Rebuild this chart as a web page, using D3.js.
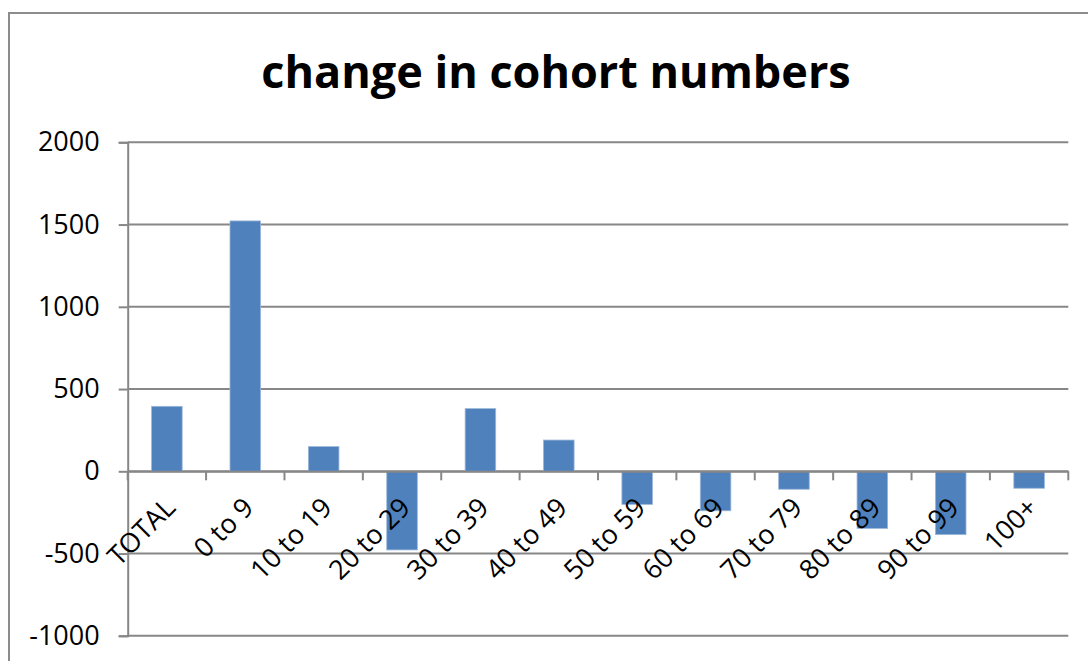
<!DOCTYPE html>
<html><head><meta charset="utf-8">
<script src="https://cdn.jsdelivr.net/npm/d3@7/dist/d3.min.js"></script>
<style>
html,body{margin:0;padding:0;background:#fff;}
svg{display:block;}
text{font-family:"Open Sans","Noto Sans",sans-serif;fill:#000;}
</style></head>
<body>
<svg id="chart" width="1088" height="661"></svg>
<script>
const categories = ["TOTAL","0 to 9","10 to 19","20 to 29","30 to 39","40 to 49","50 to 59","60 to 69","70 to 79","80 to 89","90 to 99","100+"];
const values = [395, 1522, 150, -478, 381, 190, -201, -240, -109, -347, -385, -103];
const yTicks = [-1000, -500, 0, 500, 1000, 1500, 2000];
const title = "change in cohort numbers";

const svg = d3.select("#chart");
const gridColor = "#878787";
const barColor = "#4F81BD";

// outer chart frame
svg.append("rect").attr("x", 9).attr("y", 13).attr("width", 1200).attr("height", 800)
  .attr("fill", "none").attr("stroke", "#8c8c8c").attr("stroke-width", 2);

const plot = {left: 127.7, right: 1068.3, top: 142.3, bottom: 635.8};

const y = d3.scaleLinear().domain([-1000, 2000]).range([plot.bottom, plot.top]);
const x = d3.scaleBand().domain(categories).range([plot.left, plot.right])
  .paddingInner(0.61).paddingOuter(0.305);

// gridlines
svg.append("g").selectAll("line").data(yTicks).join("line")
  .attr("x1", plot.left).attr("x2", plot.right)
  .attr("y1", d => y(d)).attr("y2", d => y(d))
  .attr("stroke", gridColor).attr("stroke-width", 2);

// bars
svg.append("g").selectAll("rect").data(values).join("rect")
  .attr("x", (d, i) => x(categories[i]))
  .attr("width", x.bandwidth())
  .attr("y", d => Math.min(y(d), y(0)))
  .attr("height", d => Math.abs(y(d) - y(0)))
  .attr("fill", barColor)
  .attr("stroke", "#9bb6d8").attr("stroke-width", 0.8);

// y axis
const yAxis = svg.append("g").attr("transform", `translate(${plot.left},0)`)
  .call(d3.axisLeft(y).tickValues(yTicks).tickSize(9).tickPadding(19).tickFormat(d => String(d)));
yAxis.select(".domain").attr("stroke", gridColor).attr("stroke-width", 2);
yAxis.selectAll(".tick line").attr("stroke", gridColor).attr("stroke-width", 2);
yAxis.selectAll(".tick text").attr("font-size", 27).attr("font-family", "'Open Sans','Noto Sans',sans-serif").attr("fill", "#000");

// category axis at zero
const xAxis = svg.append("g").attr("transform", `translate(0,${y(0)})`)
  .call(d3.axisBottom(x).tickSize(0).tickFormat(""));
xAxis.select(".domain").attr("stroke", gridColor).attr("stroke-width", 2);
// category boundary ticks
const bounds = d3.range(categories.length + 1).map(i => plot.left + i * x.step());
xAxis.append("g").selectAll("line").data(bounds).join("line")
  .attr("x1", d => d).attr("x2", d => d).attr("y1", 0).attr("y2", 9)
  .attr("stroke", gridColor).attr("stroke-width", 2);

// category labels, rotated
svg.append("g").selectAll("text").data(categories).join("text")
  .attr("transform", d => `translate(${x(d) + x.bandwidth() / 2 + 10},${y(0) + 38}) rotate(-45)`)
  .attr("text-anchor", "end")
  .attr("font-size", 27)
  .text(d => d);

// title
svg.append("text").attr("x", 556).attr("y", 88)
  .attr("text-anchor", "middle").attr("font-weight", "bold").attr("font-size", 45)
  .text(title);
</script>
</body></html>
